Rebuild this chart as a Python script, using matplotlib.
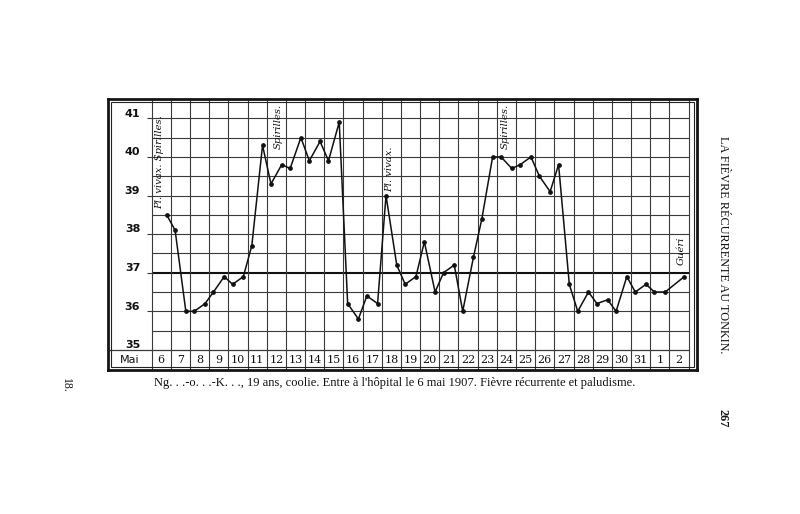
import numpy as np
import matplotlib
matplotlib.use("Agg")
import matplotlib.pyplot as plt
from matplotlib.patches import Rectangle

# ---- data ----
day_labels = ['6', '7', '8', '9', '10', '11', '12', '13', '14', '15', '16', '17', '18',
              '19', '20', '21', '22', '23', '24', '25', '26', '27', '28', '29', '30',
              '31', '1', '2']
morning = [np.nan, 38.1, 36.0, 36.5, 36.7, 37.7, 39.3, 39.7, 39.9, 39.9, 36.2, 36.4, 39.0,
           36.7, 37.8, 37.0, 36.0, 38.4, 40.0, 39.8, 39.5, 39.8, 36.0, 36.2, 36.0,
           36.5, 36.5, np.nan]
evening = [38.5, 36.0, 36.2, 36.9, 36.9, 40.3, 39.8, 40.5, 40.4, 40.9, 35.8, 36.2, 37.2,
           36.9, 36.5, 37.2, 37.4, 40.0, 39.7, 40.0, 39.1, 36.7, 36.5, 36.3, 36.9,
           36.7, 36.5, 36.9]
temp_ticks = [35, 36, 37, 38, 39, 40, 41]
notes = ["Pl. vivax. Spirilles.", "Spirilles.", "Pl. vivax.", "Spirilles.", "Guéri"]
note_days = [0, 6, 12, 18, 27]
caption = ("Ng. . .-o. . .-K. . ., 19 ans, coolie. Entre à l'hôpital le 6 mai 1907. "
           "Fièvre récurrente et paludisme.")
running_head = "LA FIÈVRE RÉCURRENTE AU TONKIN."
page_number = "267"
plate_number = "18."

# ---- figure ----
W, H = 800, 514
fig = plt.figure(figsize=(W / 100, H / 100), dpi=100)
fig.patch.set_facecolor('white')
L, R, B, T = 108 / W, 697 / W, (H - 370) / H, (H - 99) / H
ax = fig.add_axes([L, B, R - L, T - B])
ndays = len(day_labels)
xmin, xmax = -2.28, ndays + 0.44
ymin, ymax = 34.48, 41.5
ax.set_xlim(xmin, xmax)
ax.set_ylim(ymin, ymax)
ax.set_xticks([]); ax.set_yticks([])
for s in ax.spines.values():
    s.set_linewidth(2.0)
    s.set_color('#151515')

gc = '#3a3a3a'
# horizontal grid lines
for v in np.arange(35.5, 41.01, 0.5):
    if abs(v - 37) < 1e-6:
        ax.hlines(v, 0, ndays, color='#111111', lw=1.5, zorder=1)
    else:
        ax.hlines(v, 0, ndays, color=gc, lw=0.8, zorder=1)
ax.hlines(35, xmin, ndays, color=gc, lw=0.9, zorder=1)
# vertical grid lines
for i in range(ndays + 1):
    ax.vlines(i, ymin, ymax, color=gc, lw=0.8, zorder=1)
# small ticks on the temperature scale
for t in temp_ticks[1:]:
    ax.hlines(t, -0.22, 0, color=gc, lw=0.8)

# inner frame line (double border)
inset = 3
fig.add_artist(Rectangle(((108 + inset) / W, (H - 370 + inset) / H),
                         (697 - 108 - 2 * inset) / W, (370 - 99 - 2 * inset) / H,
                         transform=fig.transFigure, fill=False, lw=0.8,
                         edgecolor='#222222'))

# scale labels
for t in temp_ticks:
    ax.text(-1.0, t + 0.12, str(t), ha='center', va='center', fontsize=8,
            family='DejaVu Sans', weight='bold', color='#111111')
ax.text(-1.14, 34.74, 'Mai', ha='center', va='center', fontsize=8,
        family='DejaVu Sans', color='#111111')
for i, lab in enumerate(day_labels):
    ax.text(i + 0.5, 34.74, lab, ha='center', va='center', fontsize=8,
            family='DejaVu Serif', color='#111111')

# temperature curve
xs, ys = [], []
for i in range(ndays):
    for off, val in ((0.22, morning[i]), (0.78, evening[i])):
        if not np.isnan(val):
            xs.append(i + off)
            ys.append(val)
ax.plot(xs, ys, color='#111111', lw=1.1, marker='o', ms=2.4, zorder=3)

# annotations
note_y = [38.65, 40.2, 39.1, 40.2, 37.2]
note_x = [0.43, 6.6, 12.4, 18.45, 27.6]
for text, nx, ny in zip(notes, note_x, note_y):
    ax.text(nx, ny, text, rotation=90, ha='center', va='bottom',
            fontsize=7.2, style='italic', family='DejaVu Serif', color='#111111')

# caption and page furniture
fig.text(395 / W, 1 - 383 / H, caption, ha='center', va='center', fontsize=9.0,
         family='Liberation Serif', color='#111111')
fig.text(723 / W, 1 - 245 / H, running_head, rotation=-90, ha='center', va='center',
         fontsize=8.8, family='Liberation Serif', color='#111111')
fig.text(723 / W, 1 - 418 / H, page_number, rotation=-90, ha='center', va='center',
         fontsize=8.8, family='Liberation Serif', weight='bold', color='#111111')
fig.text(66 / W, 1 - 385 / H, plate_number, rotation=-90, ha='center', va='center',
         fontsize=8.5, family='Liberation Serif', color='#111111')

fig.savefig('out.png', dpi=100, facecolor='white')
